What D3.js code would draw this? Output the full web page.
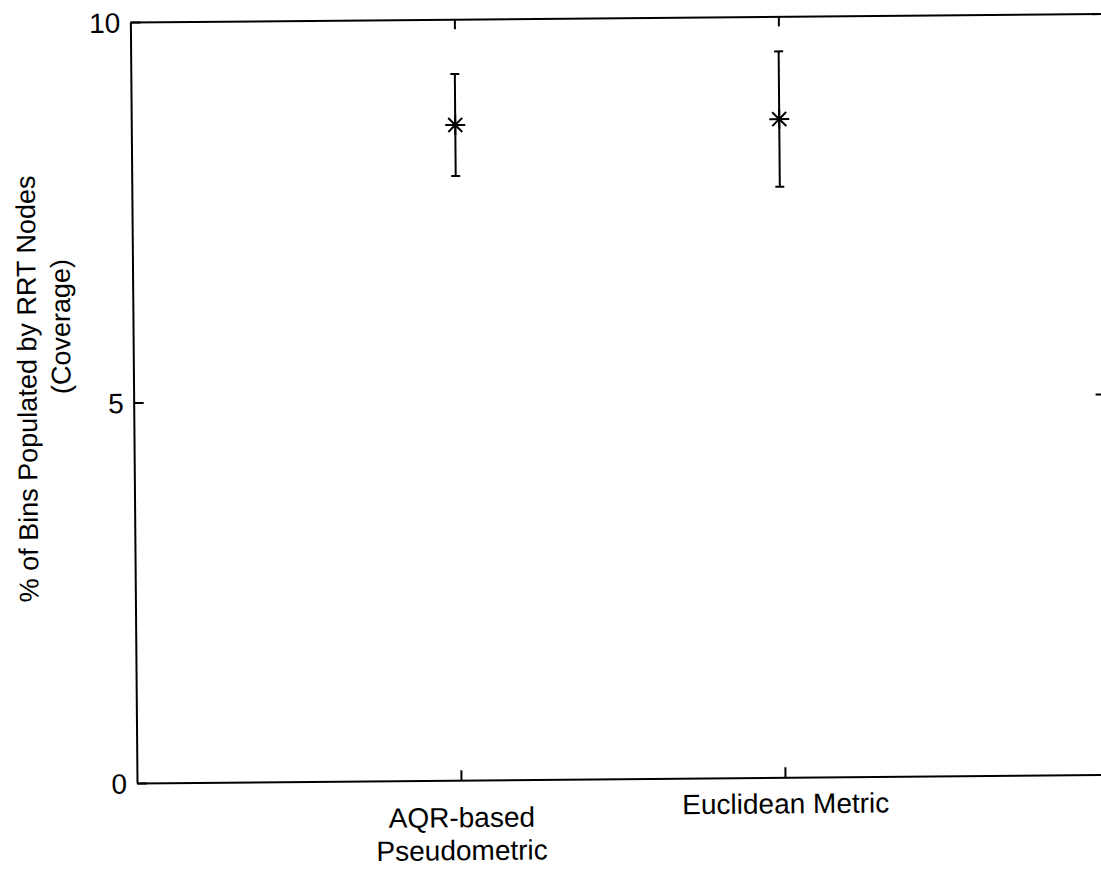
<!DOCTYPE html>
<html>
<head>
<meta charset="utf-8">
<script src="https://cdn.jsdelivr.net/npm/d3@7"></script>
<style>
  html, body { margin: 0; padding: 0; background: #fff; }
  svg { display: block; }
  text { font-family: "Liberation Sans", Arial, Helvetica, sans-serif; fill: #000; }
</style>
</head>
<body>
<svg id="chart" width="1101" height="871"></svg>
<script>
// Coverage results for the two distance measures
const categoryLines = [["AQR-based", "Pseudometric"], ["Euclidean Metric"]];
const categoryPos = [1, 2];
const meanCoverage = [8.61, 8.65];
const coverageErr = [0.67, 0.89];
const yTicks = [0, 5, 10];

const W = 1101, H = 871;
const plotLeft = 137, plotRight = 1109, plotTop = 22, plotBottom = 783;

const svg = d3.select("#chart");
svg.append("rect").attr("width", W).attr("height", H).attr("fill", "#fff");

// whole figure sits slightly tilted on the page
const g = svg.append("g").attr("transform", `rotate(-0.5, ${plotLeft}, ${plotBottom})`);

const x = d3.scaleLinear().domain([0, 3]).range([plotLeft, plotRight]);
const y = d3.scaleLinear().domain([0, 10]).range([plotBottom, plotTop]);

const tick = 10;
const fs = 28;

// left axis with inward ticks
const ax = g.append("g").attr("transform", `translate(${plotLeft},0)`)
  .call(d3.axisLeft(y).tickValues(yTicks).tickSizeInner(-tick).tickSizeOuter(0).tickPadding(10).tickFormat(d3.format("d")));
ax.selectAll("text").attr("font-size", fs).attr("dy", "0.36em");

// bottom axis with inward ticks; multi-line labels sit a little lower
const bx = g.append("g").attr("transform", `translate(0,${plotBottom})`)
  .call(d3.axisBottom(x).tickValues(categoryPos).tickSizeInner(-tick).tickSizeOuter(0).tickFormat(""));
bx.selectAll(".tick").each(function(d, i) {
  const lines = categoryLines[i];
  const t = d3.select(this).append("text")
    .attr("text-anchor", "middle")
    .attr("font-size", fs)
    .attr("y", 36 + (lines.length - 1) * 11);
  lines.forEach((s, k) => {
    t.append("tspan").attr("x", 0).attr("dy", k === 0 ? 0 : 33).text(s);
  });
});

// top and right box edges with mirrored ticks
g.append("g").attr("transform", `translate(0,${plotTop})`)
  .call(d3.axisTop(x).tickValues(categoryPos).tickSizeInner(-tick).tickSizeOuter(0).tickFormat(""));
g.append("g").attr("transform", `translate(${plotRight},0)`)
  .call(d3.axisRight(y).tickValues(yTicks).tickSizeInner(-tick).tickSizeOuter(0).tickFormat(""));

g.selectAll(".domain, .tick line").attr("stroke", "#000").attr("stroke-width", 2);

// y label, two lines
g.append("text")
  .attr("transform", `translate(40,388) rotate(-90)`)
  .attr("text-anchor", "middle")
  .attr("font-size", 27)
  .text("% of Bins Populated by RRT Nodes");
g.append("text")
  .attr("transform", `translate(74,326) rotate(-90)`)
  .attr("text-anchor", "middle")
  .attr("font-size", 27)
  .text("(Coverage)");

// error bars
const cap = 4.5;
const eb = g.append("g").attr("stroke", "#000").attr("stroke-width", 2).attr("fill", "none");
categoryPos.forEach((c, i) => {
  const cx = x(c);
  const yHi = y(meanCoverage[i] + coverageErr[i]);
  const yLo = y(meanCoverage[i] - coverageErr[i]);
  eb.append("line").attr("x1", cx).attr("x2", cx).attr("y1", yHi).attr("y2", yLo);
  eb.append("line").attr("x1", cx - cap).attr("x2", cx + cap).attr("y1", yHi).attr("y2", yHi);
  eb.append("line").attr("x1", cx - cap).attr("x2", cx + cap).attr("y1", yLo).attr("y2", yLo);
});

// asterisk markers at the means
const r = 10, rd = 7;
const mk = g.append("g").attr("stroke", "#000").attr("stroke-width", 2);
categoryPos.forEach((c, i) => {
  const cx = x(c), cy = y(meanCoverage[i]);
  const m = mk.append("g").attr("transform", `translate(${cx},${cy})`);
  m.append("line").attr("x1", -r).attr("x2", r).attr("y1", 0).attr("y2", 0);
  m.append("line").attr("x1", 0).attr("x2", 0).attr("y1", -r).attr("y2", r);
  m.append("line").attr("x1", -rd).attr("x2", rd).attr("y1", -rd).attr("y2", rd);
  m.append("line").attr("x1", -rd).attr("x2", rd).attr("y1", rd).attr("y2", -rd);
  m.append("circle").attr("r", 2.5).attr("fill", "#000").attr("stroke", "none");
});
</script>
</body>
</html>
